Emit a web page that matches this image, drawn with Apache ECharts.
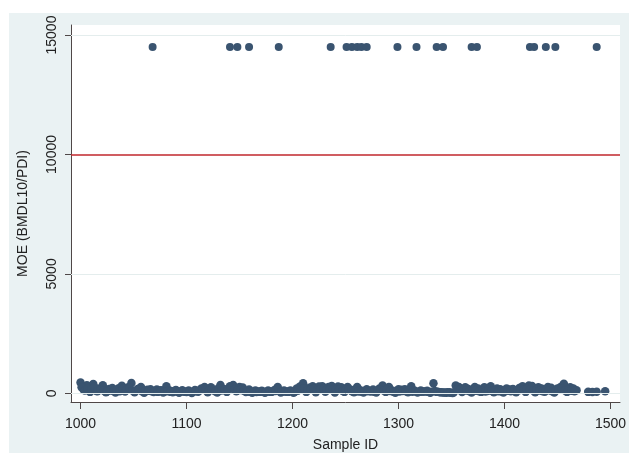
<!DOCTYPE html>
<html>
<head>
<meta charset="utf-8">
<script src="https://cdn.jsdelivr.net/npm/echarts@6/dist/echarts.min.js"></script>
<style>
  html, body { margin: 0; padding: 0; background: #fff; }
  #chart { width: 629px; height: 453px; }
</style>
</head>
<body>
<div id="chart"></div>
<script>
// samples with very high MOE (plotted at the cap)
const topIds = [1068, 1141, 1148, 1159, 1187, 1236, 1251, 1256, 1261, 1265, 1270,
  1299, 1317, 1336, 1342, 1369, 1374, 1424, 1428, 1439, 1448, 1487];
const topMoe = [14500, 14500, 14500, 14500, 14500, 14500, 14500, 14500, 14500, 14500, 14500,
  14500, 14500, 14500, 14500, 14500, 14500, 14500, 14500, 14500, 14500, 14500];

// bulk of samples near zero
const lowIds = [
  1000,1003,1006,1009,1012,1015,1018,1021,1024,1027,
  1030,1033,1036,1039,1042,1045,1048,1051,1054,1057,
  1060,1063,1066,1069,1072,1075,1078,1081,1084,1087,
  1090,1093,1096,1099,1102,1105,1108,1111,1114,1117,
  1120,1123,1126,1129,1132,1135,1138,1141,1144,1147,
  1150,1153,1156,1159,1162,1165,1168,1171,1174,1177,
  1180,1183,1186,1189,1192,1195,1198,1201,1204,1207,
  1210,1213,1216,1219,1222,1225,1228,1231,1234,1237,
  1240,1243,1246,1249,1252,1255,1258,1261,1264,1267,
  1270,1273,1276,1279,1282,1285,1288,1291,1294,1297,
  1300,1303,1306,1309,1312,1315,1318,1321,1324,1327,
  1330,1333,1336,1339,1342,1345,1348,1351,1354,1357,
  1360,1363,1366,1369,1372,1375,1378,1381,1384,1387,
  1390,1393,1396,1399,1402,1405,1408,1411,1414,1417,
  1420,1423,1426,1429,1432,1435,1438,1441,1444,1447,
  1450,1453,1456,1459,1462,1465,1468,
  1479,1483,1487,1495
];
const lowMoe = [
  450,150,335,60,390,100,200,335,40,180,
  220,30,210,320,80,250,430,40,180,260,
  20,150,170,50,160,110,30,300,120,40,
  140,20,130,60,120,10,140,70,200,260,
  40,250,150,30,350,180,60,300,350,90,
  260,240,50,160,20,120,80,110,20,120,
  60,140,260,30,120,80,120,20,200,280,
  420,60,230,300,40,280,300,70,260,310,
  30,280,250,60,260,150,40,260,130,30,
  170,100,160,30,200,330,60,260,120,20,
  170,150,170,40,300,120,30,120,80,110,
  20,420,60,40,30,20,40,10,330,260,
  50,250,180,30,260,200,60,250,100,300,
  40,200,170,30,200,160,180,40,220,300,
  60,330,310,40,250,200,70,260,230,30,
  200,260,400,60,250,200,130,
  60,50,70,90
];

const midIds = [
  1001,1004,1007,1010,1013,1016,1019,1022,1025,1028,
  1031,1034,1037,1040,1043,1046,1049,1052,1055,1058,
  1061,1064,1067,1070,1073,1076,1079,1082,1085,1088,
  1091,1094,1097,1100,1103,1106,1109,1112,1115,1118,
  1121,1124,1127,1130,1133,1136,1139,1142,1145,1148,
  1151,1154,1157,1160,1163,1166,1169,1172,1175,1178,
  1181,1184,1187,1190,1193,1196,1199,1202,1205,1208,
  1211,1214,1217,1220,1223,1226,1229,1232,1235,1238,
  1241,1244,1247,1250,1253,1256,1259,1262,1265,1268,
  1271,1274,1277,1280,1283,1286,1289,1292,1295,1298,
  1301,1304,1307,1310,1313,1316,1319,1322,1325,1328,
  1331,1334,1337,1340,1343,1346,1349,1352,1355,1358,
  1361,1364,1367,1370,1373,1376,1379,1382,1385,1388,
  1391,1394,1397,1400,1403,1406,1409,1412,1415,1418,
  1421,1424,1427,1430,1433,1436,1439,1442,1445,1448,
  1451,1454,1457,1460,1463,1466
];
const midMoe = [
  250,120,200,150,260,90,150,110,80,120,
  100,140,90,180,130,220,120,100,150,90,
  80,110,90,100,60,130,70,90,60,100,
  70,60,80,50,70,60,90,120,150,130,
  110,160,90,200,120,150,180,220,150,120,
  140,110,90,60,70,50,60,70,60,70,
  80,100,150,90,70,60,90,60,110,150,
  200,120,150,180,120,160,180,130,160,150,
  150,170,110,150,160,90,140,80,70,100,
  90,80,70,110,160,120,150,100,70,90,
  80,100,90,150,70,80,60,70,80,60,
  70,100,60,40,30,40,20,30,150,140,
  130,120,90,140,110,90,130,80,160,100,
  110,90,80,100,110,90,100,120,140,160,
  180,150,120,140,120,90,150,130,90,100,
  160,200,120,140,110,90
];

const xTicks = [1000, 1100, 1200, 1300, 1400, 1500];
const yTicks = [0, 5000, 10000, 15000];
const gridYs = [0, 5000, 15000];
const threshold = 10000;

const font = "'Liberation Sans', Arial, sans-serif";
const axisColor = '#4f4747';
const dotColor = '#3a5470';

const chart = echarts.init(document.getElementById('chart'));
chart.setOption({
  animation: false,
  backgroundColor: '#ffffff',
  graphic: [{
    type: 'rect', z: -10, silent: true,
    shape: { x: 9, y: 13, width: 620, height: 440 },
    style: { fill: '#eaf2f3' }
  }],
  grid: {
    left: 71, right: 9, top: 25, bottom: 51,
    outerBoundsMode: 'none', containLabel: false,
    show: true, backgroundColor: '#ffffff', borderWidth: 0
  },
  xAxis: {
    type: 'value', min: 991, max: 1509,
    name: 'Sample ID', nameLocation: 'middle', nameGap: 36,
    nameTextStyle: { fontFamily: font, fontSize: 14, color: '#222' },
    axisLine: { onZero: false, lineStyle: { color: axisColor, width: 1 } },
    axisTick: { customValues: xTicks, length: 7, lineStyle: { color: axisColor } },
    axisLabel: { customValues: xTicks, margin: 15, fontFamily: font, fontSize: 14, color: '#222',
      formatter: v => String(v) },
    splitLine: { show: false }
  },
  yAxis: {
    type: 'value', min: -364, max: 15420,
    name: 'MOE (BMDL10/PDI)', nameLocation: 'middle', nameGap: 41,
    nameTextStyle: { fontFamily: font, fontSize: 14, color: '#222' },
    axisLine: { show: true, onZero: false, lineStyle: { color: axisColor, width: 1 } },
    axisTick: { show: true, customValues: yTicks, length: 6, lineStyle: { color: axisColor } },
    axisLabel: { customValues: yTicks, rotate: 90, margin: 12, fontFamily: font, fontSize: 14, color: '#222',
      formatter: v => String(v) },
    splitLine: { show: false }
  },
  series: [
    {
      type: 'line', data: [], z: 1, silent: true,
      markLine: {
        silent: true, symbol: 'none', label: { show: false },
        data: gridYs.map(v => ({ yAxis: v, lineStyle: { color: '#e4eded', width: 1, type: 'solid' } }))
          .concat([{ yAxis: threshold, lineStyle: { color: '#c1272d', width: 1.5, type: 'solid' } }])
      }
    },
    {
      type: 'scatter', z: 3, symbolSize: 8.5,
      itemStyle: { color: dotColor, opacity: 1, borderWidth: 0 },
      data: lowIds.map((id, i) => [id, lowMoe[i]])
    },
    {
      type: 'scatter', z: 3, symbolSize: 8.5,
      itemStyle: { color: dotColor, opacity: 1, borderWidth: 0 },
      data: midIds.map((id, i) => [id, midMoe[i]])
    },
    {
      type: 'scatter', z: 3, symbolSize: 8,
      itemStyle: { color: dotColor, opacity: 1, borderWidth: 0 },
      data: topIds.map((id, i) => [id, topMoe[i]])
    }
  ]
});
</script>
</body>
</html>
